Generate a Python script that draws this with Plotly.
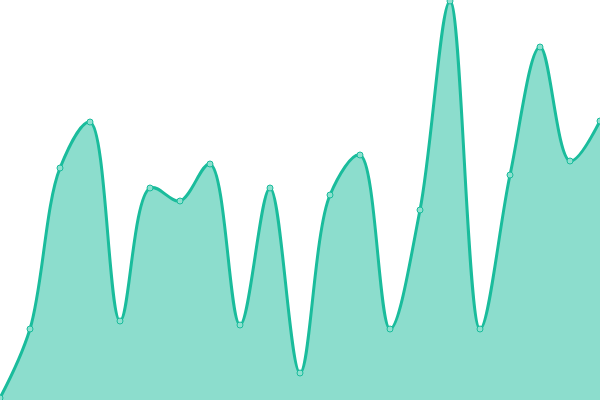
import plotly.graph_objects as go

x_vals = [0, 30, 60, 90, 120, 150, 180, 210, 240, 270, 300, 330, 360, 390, 420, 450, 480, 510, 540, 570, 600]
y_vals = [2, 71, 232, 278, 79, 212, 199, 236, 75, 212, 27, 205, 245, 71, 190, 399, 71, 225, 353, 239, 279]

fig = go.Figure()
fig.add_trace(go.Scatter(
    x=x_vals, y=y_vals, mode="lines+markers",
    line=dict(color="#1abc9c", width=3, shape="spline", smoothing=1),
    fill="tozeroy", fillcolor="rgba(26,188,156,0.5)",
    marker=dict(size=6, color="#8ee0cf", line=dict(color="#1abc9c", width=1)),
    hoverinfo="skip",
    cliponaxis=False,
))
fig.update_layout(
    width=600, height=400, margin=dict(l=0, r=0, t=0, b=0),
    paper_bgcolor="white", plot_bgcolor="white", showlegend=False,
    xaxis=dict(range=[0, 600], visible=False, fixedrange=True),
    yaxis=dict(range=[0, 400], visible=False, fixedrange=True),
)
fig.write_html("out.html", config={"displayModeBar": False},
               post_script="document.body.style.margin='0';document.body.style.overflow='hidden';")
